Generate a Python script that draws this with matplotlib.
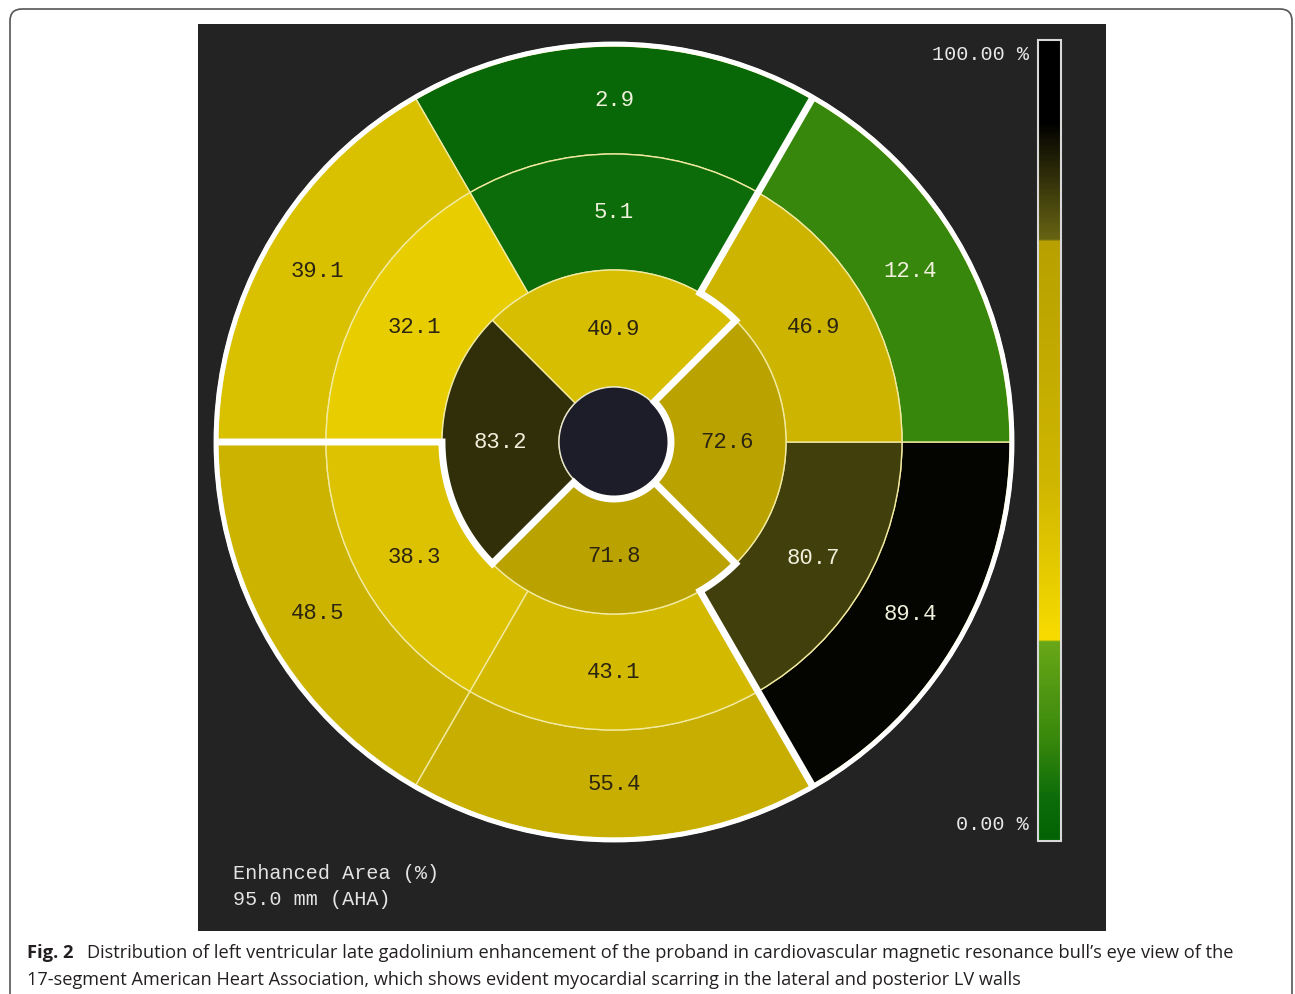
import numpy as np
import matplotlib
matplotlib.use("Agg")
import matplotlib.pyplot as plt
from matplotlib.patches import Wedge, Circle, Rectangle, FancyBboxPatch
from matplotlib.colors import LinearSegmentedColormap

# Enhanced area (%) per AHA segment, listed counter-clockwise from the top segment
basal_values = [2.9, 39.1, 48.5, 55.4, 89.4, 12.4]
mid_values = [5.1, 32.1, 38.3, 43.1, 80.7, 46.9]
apical_values = [40.9, 83.2, 71.8, 72.6]
cbar_range = [0.0, 100.0]
cbar_labels = ["0.00 %", "100.00 %"]
info_lines = ["Enhanced Area (%)", "95.0 mm (AHA)"]
caption_head = "Fig. 2"
caption_line1 = ("Distribution of left ventricular late gadolinium enhancement of the proband "
                 "in cardiovascular magnetic resonance bull\u2019s eye view of the")
caption_line2 = ("17-segment American Heart Association, which shows evident myocardial "
                 "scarring in the lateral and posterior LV walls")

W, H = 1295, 995
MONO = "Liberation Mono"


def py(y):
    # pixel row (from top) -> data y
    return H - y


# green -> yellow -> black scale, with hard steps at 25 % and 75 %
cmap = LinearSegmentedColormap.from_list("lge", [
    (0.00, "#046404"), (0.05, "#0c6c0a"), (0.125, "#38880c"), (0.25, "#6aa818"),
    (0.25, "#f8dc00"), (0.33, "#e6cc00"), (0.45, "#cfb600"), (0.75, "#b8a000"),
    (0.75, "#6a6614"), (0.90, "#000000"), (1.00, "#000000")])

CX, CY = 614, py(443)
R_HOLE, R_APEX, R_MID, R_BASE = 55, 172, 288, 396


def pol(r, deg):
    a = np.deg2rad(deg)
    return CX + r * np.cos(a), CY + r * np.sin(a)


def arc(r, a0, a1, n=40):
    t = np.linspace(a0, a1, n)
    return [pol(r, d) for d in t]


def draw_ring(ax, values, r_in, r_out, start):
    step = 360.0 / len(values)
    for i, v in enumerate(values):
        t1 = start + i * step
        frac = (v - cbar_range[0]) / (cbar_range[1] - cbar_range[0])
        ax.add_patch(Wedge((CX, CY), r_out, t1, t1 + step, width=r_out - r_in,
                           facecolor=cmap(frac), edgecolor="#f2eaa0", lw=1.0))
        tx, ty = pol((r_in + r_out) / 2, t1 + step / 2)
        light = v < 25 or v > 75
        ax.text(tx, ty, f"{v:.1f}", ha="center", va="center", fontsize=16,
                family=MONO, color="#f0f0dc" if light else "#2a2410")


fig = plt.figure(figsize=(W / 100, H / 100), dpi=100)
ax = fig.add_axes([0, 0, 1, 1])
ax.set_xlim(0, W)
ax.set_ylim(0, H)
ax.axis("off")

# page frame and dark panel
ax.add_patch(FancyBboxPatch((10, -30), 1282, py(10) + 30,
                            boxstyle="round,pad=0,rounding_size=12",
                            fc="white", ec="#555555", lw=1.2))
ax.add_patch(Rectangle((198, py(932)), 908, 907, fc="#232323", ec="none"))

# bull's eye
ax.add_patch(Circle((CX, CY), R_BASE + 4, fc="white", ec="none"))
draw_ring(ax, basal_values, R_MID, R_BASE, 60)
draw_ring(ax, mid_values, R_APEX, R_MID, 60)
draw_ring(ax, apical_values, R_HOLE, R_APEX, 45)
ax.add_patch(Circle((CX, CY), R_HOLE, fc="#1d1d29", ec="#e8e8d0", lw=1.0))

# white cut lines between the shifted parts
cut1 = ([pol(R_BASE, 60)] + arc(R_APEX, 60, 45) + arc(R_HOLE + 2, 45, -135)
        + arc(R_APEX, 225, 180) + [pol(R_BASE, 180)])
cut2 = [pol(R_BASE, 300)] + arc(R_APEX, 300, 315) + [pol(R_HOLE, 315)]
for cut in (cut1, cut2):
    xs, ys = zip(*cut)
    ax.plot(xs, ys, color="white", lw=5, solid_joinstyle="miter",
            solid_capstyle="butt")
ax.add_patch(Circle((CX, CY), R_BASE + 2, fc="none", ec="white", lw=3.5))

# colour bar
cb_x0, cb_x1, cb_y0, cb_y1 = 1038, 1061, py(842), py(41)
grad = np.linspace(0, 1, 400).reshape(-1, 1)
ax.imshow(grad, cmap=cmap, origin="lower", aspect="auto", zorder=3,
          extent=[cb_x0, cb_x1, cb_y0, cb_y1], interpolation="bilinear")
ax.add_patch(Rectangle((cb_x0, cb_y0), cb_x1 - cb_x0, cb_y1 - cb_y0,
                       fc="none", ec="#d8d8d8", lw=1.5, zorder=4))
ax.text(1029, cb_y0 + 17, cbar_labels[0], ha="right", va="center",
        fontsize=14.5, family=MONO, color="#e8e8e8")
ax.text(1029, cb_y1 - 14, cbar_labels[1], ha="right", va="center",
        fontsize=14.5, family=MONO, color="#e8e8e8")
ax.set_xlim(0, W)
ax.set_ylim(0, H)

# info text
ax.text(233, py(874), info_lines[0], ha="left", va="center", fontsize=14.5,
        family=MONO, color="#e4e4e4")
ax.text(233, py(900), info_lines[1], ha="left", va="center", fontsize=14.5,
        family=MONO, color="#e4e4e4")

# caption
ax.text(27, py(953), caption_head, ha="left", va="center", fontsize=13.2,
        family="Open Sans", weight="bold", color="#231f20")
ax.text(87, py(953), caption_line1, ha="left", va="center", fontsize=13.15,
        family="Open Sans", color="#231f20")
ax.text(27, py(980), caption_line2, ha="left", va="center", fontsize=13.1,
        family="Open Sans", color="#231f20")

fig.savefig("out.png", dpi=100)
